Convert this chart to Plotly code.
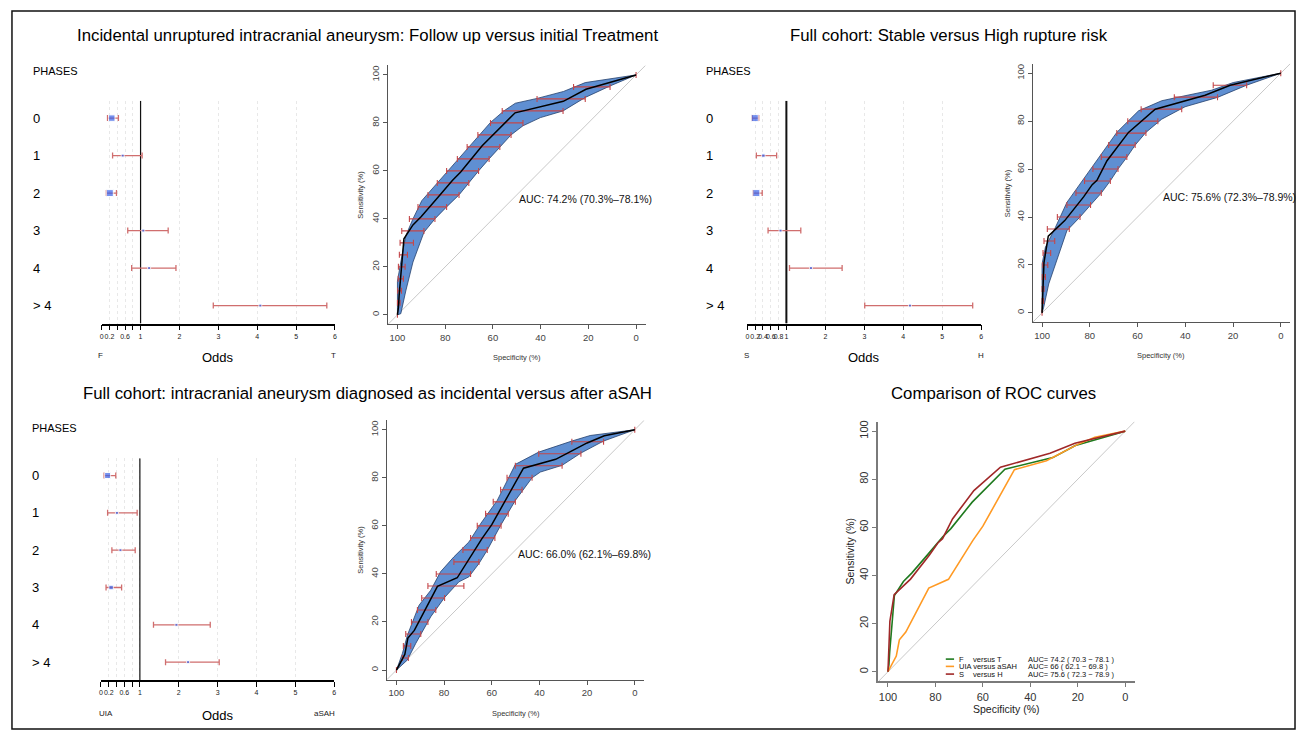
import plotly.graph_objects as go
import numpy as np

W, H = 1301, 732
FONT = "Liberation Sans, Arial, Helvetica, sans-serif"

# ---------------- data ----------------
phases = ["0", "1", "2", "3", "4", "> 4"]

# forest plots: odds ratio, lower CI, upper CI
ft_or = [0.26, 0.54, 0.21, 1.07, 1.22, 4.08]
ft_lo = [0.15, 0.28, 0.12, 0.67, 0.77, 2.87]
ft_hi = [0.43, 1.04, 0.38, 1.71, 1.91, 5.79]

sh_or = [0.19, 0.41, 0.23, 0.85, 1.63, 4.17]
sh_lo = [0.12, 0.23, 0.15, 0.53, 1.08, 3.01]
sh_hi = [0.29, 0.75, 0.38, 1.37, 2.43, 5.78]

ua_or = [0.17, 0.41, 0.50, 0.26, 1.94, 2.24]
ua_lo = [0.08, 0.17, 0.28, 0.13, 1.35, 1.66]
ua_hi = [0.38, 0.93, 0.88, 0.53, 2.81, 3.04]

odds_ticks = [0, 0.2, 0.4, 0.6, 0.8, 1, 2, 3, 4, 5, 6]
odds_text_a = ["0", "0.2", "", "0.6", "", "1", "2", "3", "4", "5", "6"]
odds_text_b = ["0", "0.2", "0.4", "0.6", "0.8", "1", "2", "3", "4", "5", "6"]

# ROC curves (specificity %, sensitivity %)
ft_spec = [100, 99.6, 99.3, 98.7, 97.3, 93.5, 90.0, 83.0, 77.0, 73.5, 64.5, 50.7, 30.5, 21.0, 0]
ft_sens = [0, 3, 8, 16, 31.7, 37.5, 41.0, 49.0, 56.0, 59.5, 70.5, 84.2, 89.0, 94.0, 100]

sh_spec = [100, 99.7, 99.4, 99.2, 97.4, 90.5, 82.6, 79.0, 77.0, 72.8, 63.8, 52.6, 31.7, 21.2, 0]
sh_sens = [0, 10, 16, 21, 32, 38.5, 48.4, 53.5, 55.3, 63.5, 75.3, 85.0, 90.8, 95.0, 100]

ua_spec = [100, 98.0, 96.5, 95.2, 92.5, 82.8, 74.5, 64.2, 60.0, 46.7, 33.2, 20.0, 12.8, 0]
ua_sens = [0, 3.5, 6.5, 13.3, 16.5, 34.8, 38.4, 54.6, 60.5, 84.0, 87.7, 94.5, 97.5, 100]

# confidence bands (upper-left edge and lower-right edge)
ft_bu_spec = [100, 100, 98.6, 96.5, 93.5, 89.8, 61.0, 55.4, 50.6, 41.5, 30.4, 21.3, 0]
ft_bu_sens = [0, 14, 22, 33, 40, 47.6, 80.2, 85, 88.2, 90.2, 93.1, 96.8, 100]
ft_bl_spec = [0, 10.9, 21.3, 30.6, 40.1, 47.4, 52.4, 57.1, 61.6, 66.0, 70.1, 74.2, 79.4, 84.3, 88.9, 93.5, 96.5, 98.6, 100]
ft_bl_sens = [100, 95.4, 90.6, 85, 82.2, 78.8, 75, 70, 65, 60, 55, 50, 45, 40, 34.4, 22, 10, 0.5, 0]

sh_bu_spec = [100, 100, 98.6, 94.4, 89.6, 68.7, 59.6, 49.9, 40.1, 29.0, 19.9, 0]
sh_bu_sens = [0, 20.4, 27.4, 35.7, 46.1, 75.3, 84.3, 88.5, 90.6, 92.9, 96.1, 100]
sh_bl_spec = [0, 14.3, 26.5, 40.1, 49.9, 56.5, 61.0, 64.5, 68.2, 71.4, 75.2, 79.7, 84.1, 89.6, 97.2, 99.3, 100]
sh_bl_sens = [100, 95, 89.9, 86, 80.8, 75.3, 70, 64.9, 60, 55.1, 50, 45, 40, 34.3, 12.1, 2.4, 0]

ua_bu_spec = [100, 97.5, 95.4, 90.5, 85.6, 81.5, 75.9, 69.6, 64.7, 57.7, 50.1, 40.3, 26.4, 18.7, 0]
ua_bu_sens = [0, 6.9, 14.5, 27, 33.2, 40.9, 47.1, 53.3, 60.9, 70.6, 85.6, 90.7, 95.3, 97.6, 100]
ua_bl_spec = [0, 13.1, 22.6, 30.5, 39.6, 43.1, 50.1, 56.3, 61.9, 65.4, 69.6, 73.8, 79.8, 85.6, 91.9, 95.4, 100]
ua_bl_sens = [100, 95.3, 90.3, 85.2, 82.4, 80, 70.6, 60.2, 49.9, 44.3, 38.8, 36.7, 30.2, 22.2, 11.1, 4.2, 0]

# specificity CI bars at sensitivity levels
ci_sens = [0, 5, 10, 15, 20, 25, 30, 35, 40, 45, 50, 55, 60, 65, 70, 75, 80, 85, 90, 95, 100]
ft_ci_hi = [100, 100, 99.9, 99.7, 99.6, 99.2, 98.9, 98.2, 95.0, 91.4, 87.2, 83.3, 79.4, 74.9, 70.8, 66.3, 61.0, 56.1, 41.5, 26.2, 0]
ft_ci_lo = [100, 98.9, 98.3, 97.5, 96.8, 95.8, 93.3, 88.9, 84.3, 79.4, 74.2, 70.1, 66.0, 61.6, 57.1, 52.4, 47.4, 30.6, 21.3, 10.9, 0]
sh_ci_hi = [100, 100, 100, 99.9, 99.7, 99.6, 99.2, 97.8, 93.6, 89.6, 85.8, 82.2, 78.7, 75.2, 72.1, 68.7, 64.1, 58.5, 44.6, 28.3, 0]
sh_ci_lo = [100, 99.4, 99.2, 98.6, 97.6, 96.4, 94.7, 88.6, 84.1, 79.7, 75.2, 71.4, 68.2, 64.5, 61.0, 56.5, 51.5, 41.5, 26.5, 14.3, 0]
ua_ci_hi = [100, 97.5, 97.1, 96.1, 93.7, 91.2, 89.4, 86.8, 83.3, 75.9, 72.1, 68.9, 66.1, 62.6, 59.4, 56.3, 53.6, 50.1, 40.3, 26.4, 0]
ua_ci_lo = [100, 95.0, 94.0, 89.8, 86.8, 83.5, 79.8, 71.7, 68.9, 65.4, 61.9, 58.7, 56.1, 53.1, 50.1, 47.3, 43.1, 30.5, 22.6, 13.1, 0]

auc_text = ["AUC: 74.2% (70.3%\u201378.1%)", "AUC: 75.6% (72.3%\u201378.9%)", "AUC: 66.0% (62.1%\u201369.8%)"]
legend_names = [("F", "versus T"), ("UIA versus aSAH", ""), ("S", "versus H")]
legend_auc = ["AUC= 74.2 ( 70.3 \u2212 78.1 )", "AUC= 66 ( 62.1 \u2212 69.8 )", "AUC= 75.6 ( 72.3 \u2212 78.9 )"]

titles = ["Incidental unruptured intracranial aneurysm: Follow up versus initial Treatment",
          "Full cohort: Stable versus High rupture risk",
          "Full cohort: intracranial aneurysm diagnosed as incidental versus after aSAH",
          "Comparison of ROC curves"]

# ---------------- helpers ----------------
fig = go.Figure()
annotations = []
shapes = []
layout_axes = {}


def P(x, y):
    return x / W, 1 - y / H


def add_text(text, x, y, size, color="#000", xanchor="center", yanchor="middle", angle=0):
    ax, ay = P(x, y)
    annotations.append(dict(text=text, x=ax, y=ay, xref="paper", yref="paper", showarrow=False,
                            font=dict(family=FONT, size=size, color=color),
                            xanchor=xanchor, yanchor=yanchor, textangle=angle))


def key(n):
    return "" if n == 1 else str(n)


ROW_RANGE = [5.48, -0.46]


def forest(n, orr, lo, hi, ticktext, xdom, ydom, lab_x, phases_y, ends, end_x, end_y, vline_w):
    k = key(n)
    orr, lo, hi = np.array(orr), np.array(lo), np.array(hi)
    rows = list(range(len(phases)))
    sizes = np.clip(1.8 / (hi - lo), 3.0, 7.0)
    # reference line at odds = 1
    fig.add_trace(go.Scatter(x=[1, 1], y=ROW_RANGE, mode="lines", line=dict(color="#111", width=vline_w),
                             xaxis="x" + k, yaxis="y" + k, hoverinfo="skip"))
    fig.add_trace(go.Scatter(x=orr, y=rows, mode="markers",
                             marker=dict(symbol="square", size=sizes, color="#3a62e8"),
                             error_x=dict(type="data", symmetric=False, array=hi - orr, arrayminus=orr - lo,
                                          color="#d06e6e", thickness=1.3, width=3),
                             xaxis="x" + k, yaxis="y" + k))
    layout_axes["xaxis" + k] = dict(domain=[xdom[0] / W, xdom[1] / W], range=[0, 6], anchor="y" + k,
                                    showline=True, linecolor="#000", linewidth=1.5, ticks="outside",
                                    ticklen=5, tickwidth=1.2, tickcolor="#000", tickvals=odds_ticks,
                                    ticktext=ticktext, tickangle=0,
                                    tickfont=dict(family=FONT, size=7, color="#222"),
                                    showgrid=True, gridcolor="#e8e8e8", griddash="dot", gridwidth=1,
                                    zeroline=False, fixedrange=True)
    layout_axes["yaxis" + k] = dict(domain=[1 - ydom[1] / H, 1 - ydom[0] / H], range=ROW_RANGE,
                                    anchor="x" + k, visible=False, showgrid=False, zeroline=False,
                                    fixedrange=True)
    add_text("PHASES", lab_x, phases_y, 11, xanchor="left")
    for r, lab in zip(rows, phases):
        annotations.append(dict(text=lab, x=lab_x / W, y=r, xref="paper", yref="y" + k, showarrow=False,
                                font=dict(family=FONT, size=13, color="#000"), xanchor="left",
                                yanchor="middle"))
    add_text(ends[0], end_x[0], end_y, 8, color="#222")
    add_text(ends[1], end_x[1], end_y, 8, color="#222")
    add_text("Odds", (xdom[0] + xdom[1]) / 2, end_y + 2, 13)


def roc_axes(n, xdom, ydom, tsize, lcolor, lwidth, tcolor):
    k = key(n)
    common = dict(showline=True, linecolor=lcolor, linewidth=lwidth, ticks="outside", ticklen=4,
                  tickcolor=lcolor, tickwidth=1, tickvals=[0, 20, 40, 60, 80, 100],
                  tickfont=dict(family=FONT, size=tsize, color=tcolor), showgrid=False,
                  zeroline=False, fixedrange=True)
    layout_axes["xaxis" + k] = dict(domain=[xdom[0] / W, xdom[1] / W], range=[104, -4],
                                    anchor="y" + k, tickangle=0, **common)
    layout_axes["yaxis" + k] = dict(domain=[1 - ydom[1] / H, 1 - ydom[0] / H], range=[-4, 104],
                                    anchor="x" + k, tickangle=-90, **common)


def diag(n):
    k = key(n)
    dx = np.array([104, -4])
    fig.add_trace(go.Scatter(x=dx, y=100 - dx, mode="lines", line=dict(color="#c8c8c8", width=1),
                             xaxis="x" + k, yaxis="y" + k, hoverinfo="skip"))


def roc(n, spec, sens, bu_s, bu_e, bl_s, bl_e, c_hi, c_lo, auc, xdom, ydom, ytitle_x, xtitle_y):
    k = key(n)
    roc_axes(n, xdom, ydom, 9.5, "#555", 1, "#444")
    diag(n)
    fig.add_trace(go.Scatter(x=list(bu_s) + list(bl_s), y=list(bu_e) + list(bl_e), mode="lines",
                             fill="toself", fillcolor="#5f8fd2", line=dict(color="#24406c", width=0.8),
                             xaxis="x" + k, yaxis="y" + k, hoverinfo="skip"))
    c_hi, c_lo = np.array(c_hi), np.array(c_lo)
    fig.add_trace(go.Scatter(x=(c_hi + c_lo) / 2, y=ci_sens, mode="markers",
                             marker=dict(size=2, color="rgba(0,0,0,0)"),
                             error_x=dict(type="data", array=(c_hi - c_lo) / 2, color="#c4474a",
                                          thickness=1.1, width=3),
                             xaxis="x" + k, yaxis="y" + k))
    fig.add_trace(go.Scatter(x=spec, y=sens, mode="lines", line=dict(color="#000", width=1.5),
                             xaxis="x" + k, yaxis="y" + k))
    annotations.append(dict(text=auc, x=50, y=48.3, xref="x" + k, yref="y" + k, showarrow=False,
                            font=dict(family=FONT, size=10.5, color="#111"), xanchor="left",
                            yanchor="middle"))
    add_text("Sensitivity (%)", ytitle_x, (ydom[0] + ydom[1]) / 2, 7.5, color="#333", angle=-90)
    add_text("Specificity (%)", (xdom[0] + xdom[1]) / 2, xtitle_y, 7.5, color="#333")


# ---------------- panels ----------------
forest(1, ft_or, ft_lo, ft_hi, odds_text_a, (100, 334), (100, 323), 29, 70, ("F", "T"), (99, 333), 355, 1.2)
forest(3, sh_or, sh_lo, sh_hi, odds_text_b, (747.7, 982.3), (100, 323), 704, 70, ("S", "H"), (747, 982), 355, 2.0)
forest(5, ua_or, ua_lo, ua_hi, odds_text_a, (99.3, 333.3), (458, 680), 28, 428, ("UIA", "aSAH"), (104, 323), 713, 1.2)

roc(2, ft_spec, ft_sens, ft_bu_spec, ft_bu_sens, ft_bl_spec, ft_bl_sens, ft_ci_hi, ft_ci_lo, auc_text[0],
    (387.1, 645.6), (64.4, 323.9), 360, 356.7)
roc(4, sh_spec, sh_sens, sh_bu_spec, sh_bu_sens, sh_bl_spec, sh_bl_sens, sh_ci_hi, sh_ci_lo, auc_text[1],
    (1033.7, 1292.3), (62.7, 321.9), 1008.3, 355)
roc(6, ua_spec, ua_sens, ua_bu_spec, ua_bu_sens, ua_bl_spec, ua_bl_sens, ua_ci_hi, ua_ci_lo, auc_text[2],
    (386.1, 644.3), (419.7, 679.6), 360, 713.3)

# comparison panel
cx, cy = (879.2, 1136.2), (421.1, 681.3)
roc_axes(7, cx, cy, 11, "#7a7a7a", 2, "#333")
diag(7)
comp_colors = ["#1f7a1f", "#ff9a24", "#a02828"]
for spec, sens, col in zip([ft_spec, ua_spec, sh_spec], [ft_sens, ua_sens, sh_sens], comp_colors):
    fig.add_trace(go.Scatter(x=spec, y=sens, mode="lines", line=dict(color=col, width=1.6),
                             xaxis="x7", yaxis="y7"))
add_text("Sensitivity (%)", 850.7, (cy[0] + cy[1]) / 2, 10.5, color="#222", angle=-90)
add_text("Specificity (%)", (cx[0] + cx[1]) / 2, 709, 10.5, color="#222")

leg_y = [659, 666.3, 674]
for yy, col, (a, b), auc in zip(leg_y, comp_colors, legend_names, legend_auc):
    x0, y0 = P(946.7, yy)
    x1, _ = P(955, yy)
    shapes.append(dict(type="line", xref="paper", yref="paper", x0=x0, x1=x1, y0=y0, y1=y0,
                       line=dict(color=col, width=1.6)))
    add_text(a, 957.5, yy, 7.5, color="#111", xanchor="left")
    if b:
        add_text(b, 971.7, yy, 7.5, color="#111", xanchor="left")
    add_text(auc, 1026.7, yy, 7.5, color="#111", xanchor="left")

# titles
add_text(titles[0], 367, 35, 16.8)
add_text(titles[1], 950, 35, 16.8)
add_text(titles[2], 367, 393, 16.8)
add_text(titles[3], 995, 393, 16.8)

# outer frame
x0, y0 = P(10, 10)
x1, y1 = P(1297, 729)
shapes.append(dict(type="rect", xref="paper", yref="paper", x0=x0, y0=y1, x1=x1, y1=y0,
                   line=dict(color="#111", width=1.5)))

fig.update_layout(width=W, height=H, margin=dict(l=0, r=0, t=0, b=0), paper_bgcolor="white",
                  plot_bgcolor="white", showlegend=False, annotations=annotations, shapes=shapes,
                  font=dict(family=FONT), **layout_axes)

fig.write_html("out.html", config={"displayModeBar": False},
               post_script="document.body.style.margin='0px';document.body.style.overflow='hidden';")
